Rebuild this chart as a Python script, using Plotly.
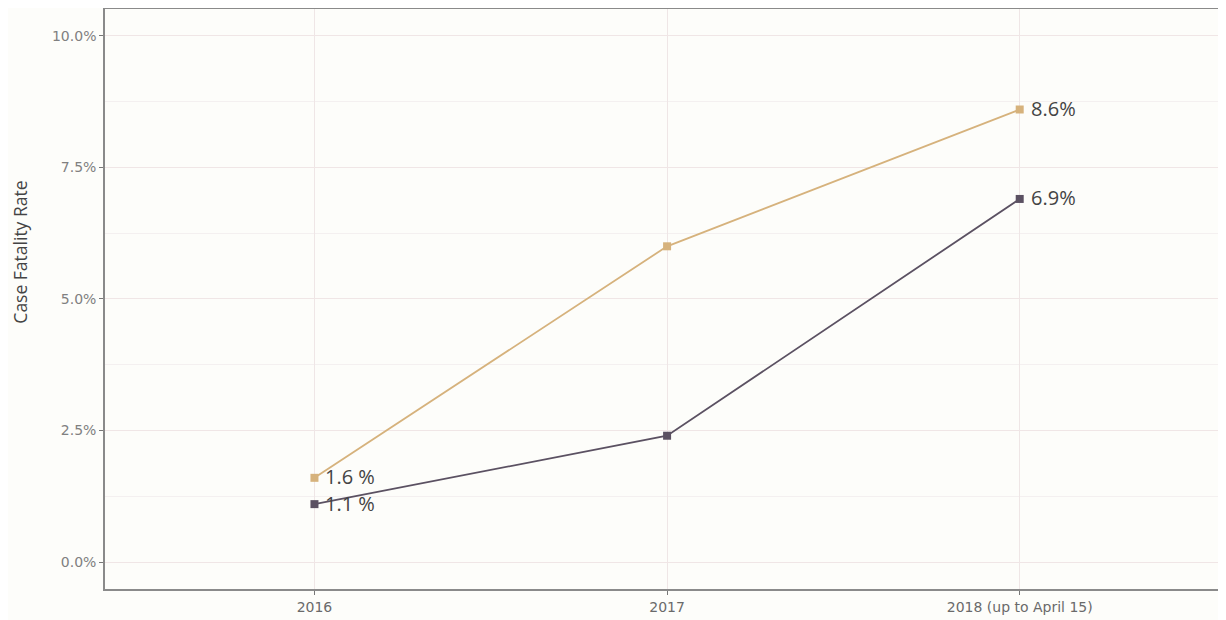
import plotly.graph_objects as go

categories = ["2016", "2017", "2018 (up to April 15)"]
series_a_name = "Series A"
series_a = [1.6, 6.0, 8.6]
series_a_labels = ["1.6 %", "", "8.6%"]
series_b_name = "Series B"
series_b = [1.1, 2.4, 6.9]
series_b_labels = ["1.1 %", "", "6.9%"]
y_tickvals = [0, 2.5, 5, 7.5, 10]
y_ticktext = ["0.0%", "2.5%", "5.0%", "7.5%", "10.0%"]
y_title = "Case Fatality Rate"

xidx = list(range(len(categories)))

fig = go.Figure()
annotations = []
for vals, labels, color, name in [
    (series_a, series_a_labels, "#d6b27c", series_a_name),
    (series_b, series_b_labels, "#5b5162", series_b_name),
]:
    fig.add_trace(go.Scatter(
        x=xidx, y=vals, mode="lines+markers", name=name,
        line=dict(color=color, width=1.8),
        marker=dict(symbol="square", size=8, color=color),
        showlegend=False,
        cliponaxis=False,
    ))
    for xi, v, lab in zip(xidx, vals, labels):
        if lab:
            annotations.append(dict(
                x=xi, y=v, text=lab, showarrow=False,
                xanchor="left", yanchor="middle", xshift=9, yshift=1,
                font=dict(family="Open Sans, sans-serif", size=20, color="#444444"),
            ))

annotations.append(dict(
    text=y_title, xref="paper", yref="paper", x=-0.0758, y=0.58,
    xanchor="center", yanchor="middle", textangle=-90, showarrow=False,
    font=dict(family="Open Sans, sans-serif", size=17.5, color="#444444"),
))

# page body has an 8px offset; figure is sized to fill the remaining window
fig.update_layout(
    width=1218, height=612,
    margin=dict(l=97, r=0, t=1, b=31),
    paper_bgcolor="#fdfdfa",
    plot_bgcolor="#fdfdfa",
    annotations=annotations,
    xaxis=dict(
        range=[-0.594, 2.585],
        tickvals=xidx, ticktext=categories,
        showgrid=True, gridcolor="#efe6e6", gridwidth=1,
        showline=True, linecolor="#8a8a8a", linewidth=1.5, mirror=True,
        ticks="outside", ticklen=4, tickcolor="#777777",
        tickfont=dict(family="DejaVu Sans, sans-serif", size=14, color="#6a6a6a"),
        zeroline=False,
    ),
    yaxis=dict(
        range=[-0.513, 10.51],
        tickvals=y_tickvals, ticktext=y_ticktext,
        showgrid=True, gridcolor="#f0e6e6", gridwidth=1,
        minor=dict(dtick=1.25, showgrid=True, gridcolor="#f4f0f0", gridwidth=1),
        showline=True, linecolor="#8a8a8a", linewidth=1.5,
        ticks="outside", ticklen=4, tickcolor="#777777",
        tickfont=dict(family="DejaVu Sans, sans-serif", size=14, color="#808080"),
        zeroline=False,
    ),
)

fig.write_html("out.html")
